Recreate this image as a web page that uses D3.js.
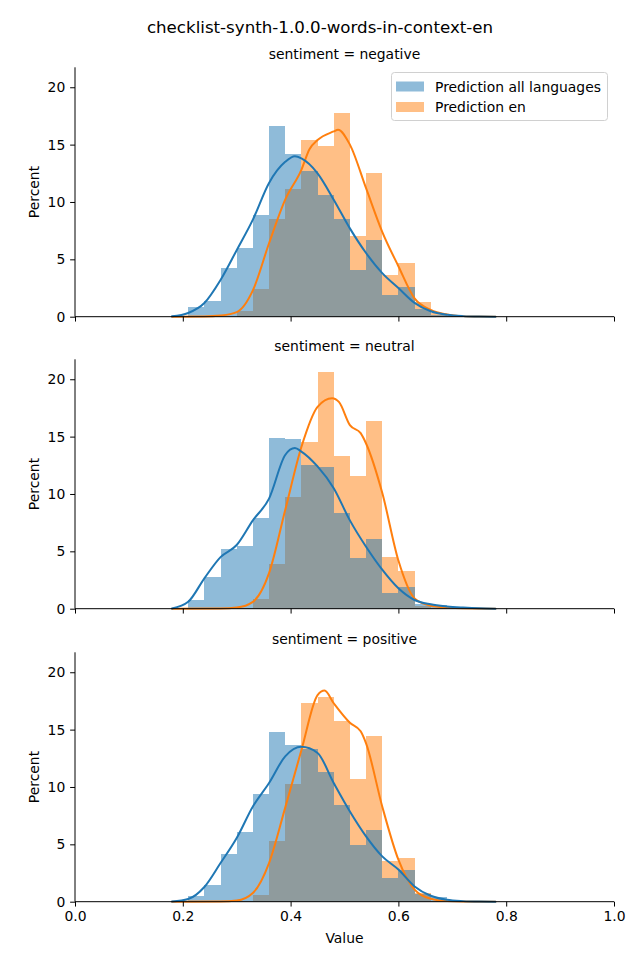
<!DOCTYPE html>
<html>
<head>
<meta charset="utf-8">
<script src="https://cdn.jsdelivr.net/npm/d3@7"></script>
<style>
  html, body { margin: 0; padding: 0; background: #fff; }
  svg { display: block; font-family: "DejaVu Sans", sans-serif; }
</style>
</head>
<body>
<svg id="chart" width="640" height="960"></svg>
<script>
// ---------------- data ----------------
const title = "checklist-synth-1.0.0-words-in-context-en";
const facets = ["negative", "neutral", "positive"];
const seriesNames = ["Prediction all languages", "Prediction en"];
const xTicks = [0.0, 0.2, 0.4, 0.6, 0.8, 1.0];
const yTicks = [0, 5, 10, 15, 20];

// shared histogram bin edges
const binEdges = [0.21, 0.24, 0.27, 0.30, 0.33, 0.36, 0.39, 0.42, 0.45, 0.48,
                  0.51, 0.54, 0.57, 0.60, 0.63, 0.66, 0.69, 0.72];

// percent per bin
const allNegative = [0.87, 1.38, 4.27, 6.0, 8.9, 16.6, 14.2, 12.67, 10.6, 8.5, 4.1, 6.7, 1.92, 2.59, 0.65, 0.15, 0.05];
const enNegative  = [0, 0, 0, 0.49, 2.4, 8.54, 11.13, 15.43, 14.9, 17.78, 7.06, 12.55, 3.66, 4.68, 1.3, 0.35, 0.05];
const allNeutral  = [0.73, 2.76, 5.2, 5.5, 7.9, 14.88, 14.8, 12.53, 12.38, 8.34, 4.42, 6.08, 1.4, 1.89, 0.38, 0.3, 0.05];
const enNeutral   = [0, 0, 0, 0.1, 0.87, 3.9, 9.74, 14.53, 20.64, 13.3, 11.54, 16.36, 4.5, 3.29, 0.25, 0.1, 0];
const allPositive = [0.5, 1.45, 4.2, 6.07, 9.4, 14.8, 13.66, 13.34, 11.33, 8.45, 4.97, 6.28, 2.09, 2.79, 0.7, 0.38, 0.05];
const enPositive  = [0, 0, 0, 0.05, 0.55, 5.32, 10.29, 17.29, 17.87, 15.78, 10.66, 14.47, 3.57, 3.84, 0.8, 0.1, 0];

// KDE curves: [value, percent]
const kdeAllNegative = [[0.18,0.03],[0.21,0.32],[0.24,1.19],[0.27,3.2],[0.30,5.8],[0.33,8.46],[0.36,11.66],[0.39,13.5],[0.408,13.98],[0.42,13.8],[0.45,12.5],[0.48,10.2],[0.51,7.7],[0.54,5.55],[0.57,3.8],[0.60,2.5],[0.63,1.2],[0.66,0.47],[0.69,0.17],[0.72,0.05],[0.75,0.01],[0.78,0]];
const kdeEnNegative  = [[0.18,0],[0.24,0.02],[0.27,0.1],[0.30,0.4],[0.33,2.3],[0.36,6.4],[0.39,10.2],[0.42,12.8],[0.435,14.6],[0.45,15.4],[0.48,16.15],[0.488,16.3],[0.51,15.0],[0.54,11.2],[0.57,7.4],[0.60,4.4],[0.63,1.6],[0.66,0.6],[0.69,0.2],[0.72,0.05],[0.75,0.01],[0.78,0]];
const kdeAllNeutral  = [[0.18,0.02],[0.21,0.6],[0.24,2.65],[0.27,4.5],[0.30,5.55],[0.33,7.7],[0.36,9.6],[0.39,13.4],[0.408,14.0],[0.42,13.7],[0.45,12.4],[0.48,10.5],[0.51,7.7],[0.54,5.4],[0.57,3.4],[0.60,1.78],[0.63,0.76],[0.66,0.38],[0.69,0.2],[0.72,0.1],[0.75,0.03],[0.78,0]];
const kdeEnNeutral   = [[0.18,0],[0.27,0.02],[0.30,0.1],[0.33,0.6],[0.36,3.1],[0.39,8.6],[0.42,14.1],[0.45,17.6],[0.477,18.35],[0.49,18.0],[0.51,16.0],[0.53,15.3],[0.54,14.4],[0.57,10.1],[0.60,4.2],[0.63,0.9],[0.66,0.25],[0.69,0.1],[0.72,0.03],[0.78,0]];
const kdeAllPositive = [[0.18,0.02],[0.21,0.23],[0.24,1.28],[0.27,3.37],[0.30,5.55],[0.33,8.3],[0.36,10.35],[0.39,12.67],[0.42,13.5],[0.45,12.96],[0.48,10.35],[0.51,7.87],[0.54,5.7],[0.57,3.95],[0.60,2.8],[0.63,1.33],[0.66,0.52],[0.69,0.17],[0.72,0.05],[0.75,0.01],[0.78,0]];
const kdeEnPositive  = [[0.18,0],[0.27,0.02],[0.30,0.1],[0.33,0.76],[0.36,3.37],[0.39,8.2],[0.42,13.2],[0.45,18.0],[0.463,18.4],[0.48,17.3],[0.51,15.6],[0.53,14.85],[0.54,13.8],[0.57,8.3],[0.60,3.66],[0.63,1.05],[0.66,0.25],[0.69,0.05],[0.72,0.01],[0.78,0]];

const histAll = [allNegative, allNeutral, allPositive];
const histEn  = [enNegative, enNeutral, enPositive];
const kdeAll  = [kdeAllNegative, kdeAllNeutral, kdeAllPositive];
const kdeEn   = [kdeEnNegative, kdeEnNeutral, kdeEnPositive];

// ---------------- layout ----------------
const colors = ["#1f77b4", "#ff7f0e"];
const left = 75, right = 614;
const panelTops = [67.3, 359.3, 652.3];
const panelH = 249.4;
const fs = 13.9;
const tickLen = 4.86;

const svg = d3.select("#chart");
const x = d3.scaleLinear().domain([0, 1]).range([left, right]);

svg.append("text")
  .attr("x", 320).attr("y", 33)
  .attr("text-anchor", "middle")
  .attr("font-size", 16.67)
  .text(title);

facets.forEach((facet, fi) => {
  const top = panelTops[fi];
  const bottom = top + panelH;
  const y = d3.scaleLinear().domain([0, 21.74]).range([bottom, top]);
  const g = svg.append("g");

  // bars: en first, all languages on top
  const bins = d3.range(binEdges.length - 1);
  [[histEn[fi], colors[1]], [histAll[fi], colors[0]]].forEach(([vals, col]) => {
    g.append("g").selectAll("rect")
      .data(bins)
      .join("rect")
      .attr("x", i => x(binEdges[i]))
      .attr("width", i => x(binEdges[i + 1]) - x(binEdges[i]))
      .attr("y", i => y(vals[i]))
      .attr("height", i => y(0) - y(vals[i]))
      .attr("fill", col)
      .attr("fill-opacity", 0.5)
      .attr("shape-rendering", "crispEdges");
  });

  const line = d3.line()
    .x(d => x(d[0]))
    .y(d => y(d[1]))
    .curve(d3.curveMonotoneX);

  [[kdeEn[fi], colors[1]], [kdeAll[fi], colors[0]]].forEach(([pts, col]) => {
    g.append("path")
      .attr("d", line(pts))
      .attr("fill", "none")
      .attr("stroke", col)
      .attr("stroke-width", 2)
      .attr("stroke-linejoin", "round")
      .attr("stroke-linecap", "round");
  });

  // axes
  const yAxis = d3.axisLeft(y).tickValues(yTicks).tickSize(tickLen).tickPadding(tickLen);
  const ya = g.append("g").attr("transform", `translate(${left},0)`).call(yAxis);
  ya.select(".domain").attr("d", `M0,${top}V${bottom}`);

  const xAxis = d3.axisBottom(x).tickValues(xTicks).tickSize(tickLen).tickPadding(tickLen)
    .tickFormat(fi === 2 ? d3.format(".1f") : () => "");
  const xa = g.append("g").attr("transform", `translate(0,${bottom})`).call(xAxis);
  xa.select(".domain").attr("d", `M${left},0H${right}`);

  [ya, xa].forEach(a => {
    a.selectAll("text").attr("font-size", fs).attr("font-family", "DejaVu Sans").attr("fill", "#000");
    a.selectAll("line").attr("stroke", "#000").attr("stroke-width", 1);
    a.select(".domain").attr("stroke", "#000").attr("stroke-width", 1);
  });

  // facet title
  svg.append("text")
    .attr("x", (left + right) / 2).attr("y", top - 8)
    .attr("text-anchor", "middle")
    .attr("font-size", fs)
    .text(`sentiment = ${facet}`);

  // y label
  svg.append("text")
    .attr("transform", `translate(39,${(top + bottom) / 2}) rotate(-90)`)
    .attr("text-anchor", "middle")
    .attr("font-size", fs)
    .text("Percent");
});

svg.append("text")
  .attr("x", (left + right) / 2).attr("y", 943)
  .attr("text-anchor", "middle")
  .attr("font-size", fs)
  .text("Value");

// legend
const lg = svg.append("g");
lg.append("rect")
  .attr("x", 391.5).attr("y", 72.5).attr("width", 216).attr("height", 48)
  .attr("rx", 3)
  .attr("fill", "#fff").attr("fill-opacity", 0.8)
  .attr("stroke", "#d0d0d0").attr("stroke-width", 1);
seriesNames.forEach((name, i) => {
  const cy = 86.5 + i * 20.5;
  lg.append("rect")
    .attr("x", 396).attr("y", cy - 5).attr("width", 28).attr("height", 10)
    .attr("fill", colors[i]).attr("fill-opacity", 0.5);
  lg.append("text")
    .attr("x", 435).attr("y", cy + 5)
    .attr("font-size", fs)
    .text(name);
});
</script>
</body>
</html>
